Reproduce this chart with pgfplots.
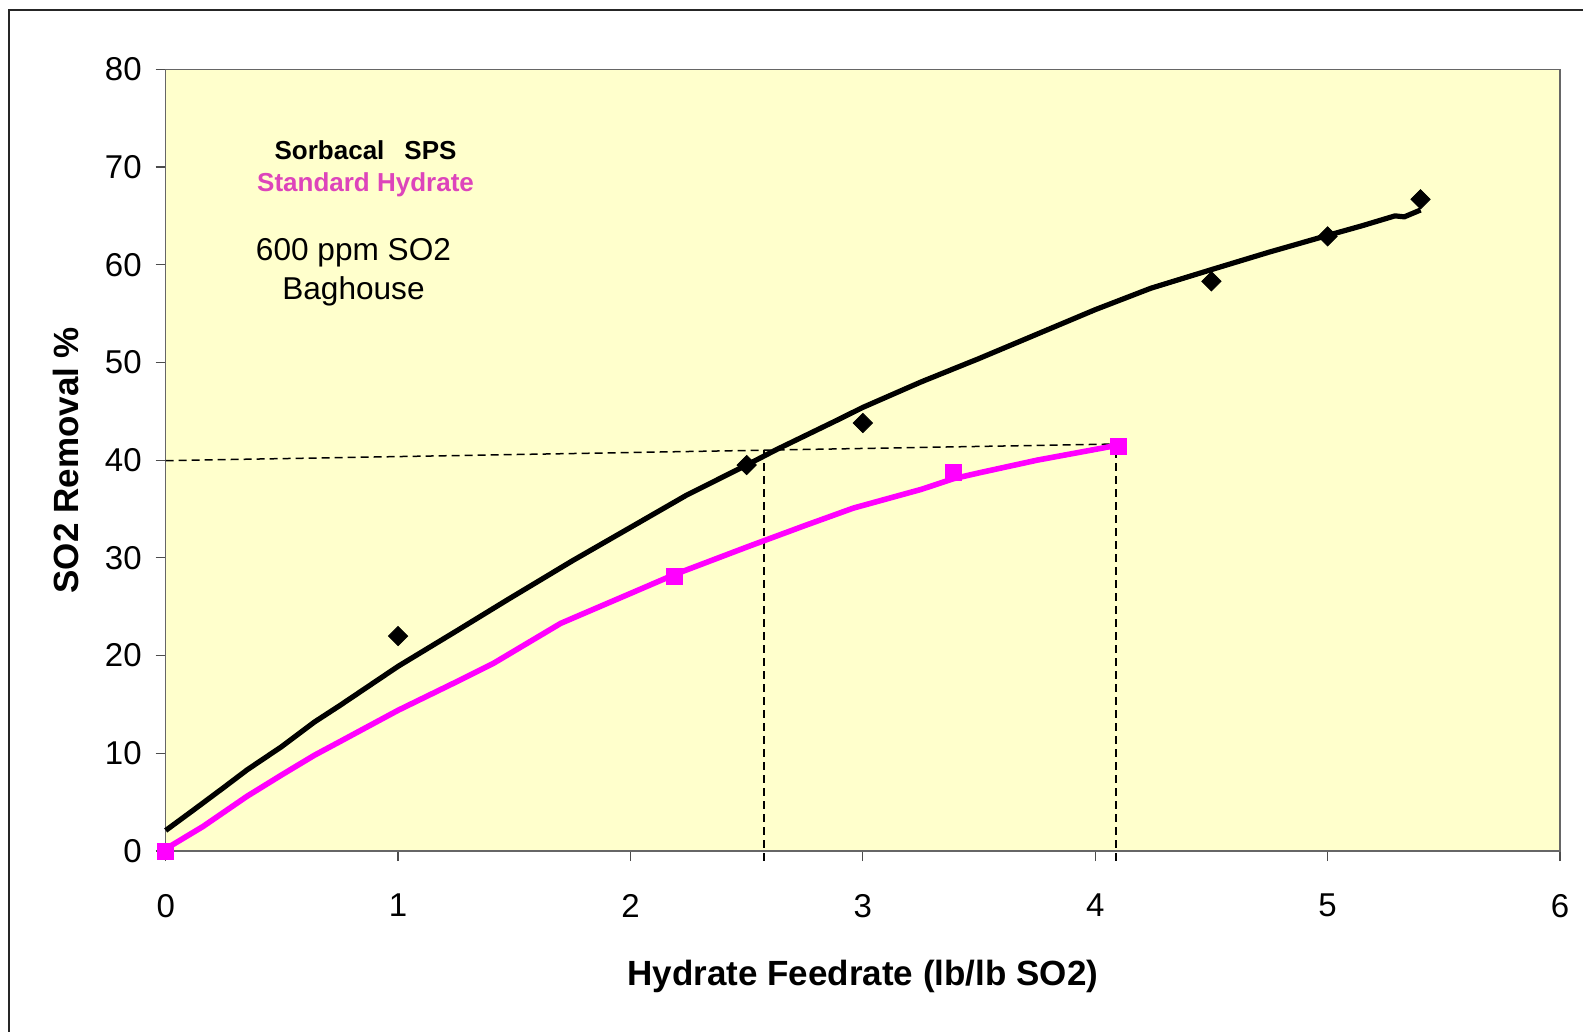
\documentclass[border=0pt]{standalone}
\usepackage{fontspec}
\setmainfont{Liberation Sans}
\usepackage{pgfplots}
\pgfplotsset{compat=1.18}
\definecolor{bgyellow}{HTML}{FFFFCC}
\definecolor{mag}{HTML}{FF00FF}
\definecolor{pinktext}{RGB}{221,68,187}
\begin{document}
\begin{tikzpicture}
\useasboundingbox (-82.85bp,-90.5bp) rectangle (708.65bp,425.5bp);
\draw[black!85, line width=1bp] (-78.35bp,-95bp) -- (-78.35bp,420.5bp) -- (715bp,420.5bp);
\begin{axis}[
 scale only axis, width=697.15bp, height=390.85bp,
 xmin=0, xmax=6, ymin=0, ymax=80,
 xtick={0,1,2,3,4,5,6}, ytick={0,10,20,30,40,50,60,70,80},
 xtick pos=bottom, ytick pos=left,
 tick align=outside, major tick length=5bp,
 axis background/.style={fill=bgyellow},
 axis line style={black!60, line width=0.8bp},
 tick style={black!70, line width=0.6bp},
 clip=false,
 /pgf/number format/assume math mode=true,
 ticklabel style={font=\fontsize{16.5bp}{20bp}\selectfont},
 xticklabel style={yshift=-13bp},
 yticklabel style={xshift=-3.5bp},
 label style={font=\bfseries\fontsize{17.5bp}{21bp}\selectfont},
 xlabel={Hydrate Feedrate (lb/lb SO2)},
 ylabel={SO2 Removal \%},
 xlabel style={at={(axis description cs:0.5,-0.161)}, anchor=center},
 ylabel style={at={(axis description cs:-0.0717,0.5)}, anchor=center},
]
% dashed guide lines
\addplot[black, line width=0.75bp, dash pattern=on 4bp off 2.5bp] coordinates {(0,39.95) (4.09,41.65)};
\addplot[black, line width=0.75bp, dash pattern=on 4bp off 2.5bp] coordinates {(2.574,-1) (2.574,41.03)};
\addplot[black, line width=0.75bp, dash pattern=on 4bp off 2.5bp] coordinates {(4.09,-1) (4.09,41.65)};
% trend lines
\addplot[black, line width=2.6bp, line join=round] coordinates {
(0,2.1) (0.12,4.2) (0.25,6.5) (0.35,8.3) (0.5,10.7) (0.64,13.2) (0.75,14.9)
(1.0,18.9) (1.25,22.5) (1.47,25.7) (1.75,29.7) (1.955,32.5) (2.24,36.4)
(2.5,39.5) (2.63,41.1) (2.89,44.1) (3.0,45.4) (3.25,48.0) (3.5,50.4)
(3.75,52.9) (4.0,55.4) (4.24,57.6) (4.5,59.5) (4.75,61.3) (5.0,63.0)
(5.15,64.0) (5.29,65.0) (5.33,64.9) (5.4,65.6)};
\addplot[mag, line width=2.8bp, line join=round] coordinates {
(0,0) (0.02,0.5) (0.16,2.5) (0.35,5.6) (0.5,7.8) (0.64,9.8) (0.75,11.2)
(1.0,14.4) (1.25,17.3) (1.41,19.2) (1.7,23.3) (1.955,25.9) (2.19,28.3)
(2.5,31.1) (2.75,33.3) (2.96,35.1) (3.25,37.0) (3.39,38.1) (3.5,38.7)
(3.75,40.0) (4.0,41.1) (4.09,41.5)};
% data points
\addplot[only marks, mark=square*, mark size=3.4bp, mark options={rotate=45, fill=black, draw=black}] coordinates {
(1,22) (2.5,39.5) (3,43.8) (4.5,58.3) (5,62.9) (5.4,66.7)};
\addplot[only marks, mark=square*, mark size=4bp, mark options={fill=mag, draw=mag}] coordinates {
(0,0) (2.19,28.1) (3.39,38.7) (4.1,41.45)};
% annotations
\node[font=\bfseries\fontsize{13bp}{15bp}\selectfont] at (axis cs:0.86,71.7) {Sorbacal\hspace{10bp}SPS};
\node[pinktext, font=\bfseries\fontsize{13bp}{15bp}\selectfont] at (axis cs:0.86,68.2) {Standard Hydrate};
\node[font=\fontsize{15.8bp}{19.5bp}\selectfont, align=center] at (axis cs:0.808,59.2) {600 ppm SO2\\Baghouse};
\end{axis}
\end{tikzpicture}
\end{document}
